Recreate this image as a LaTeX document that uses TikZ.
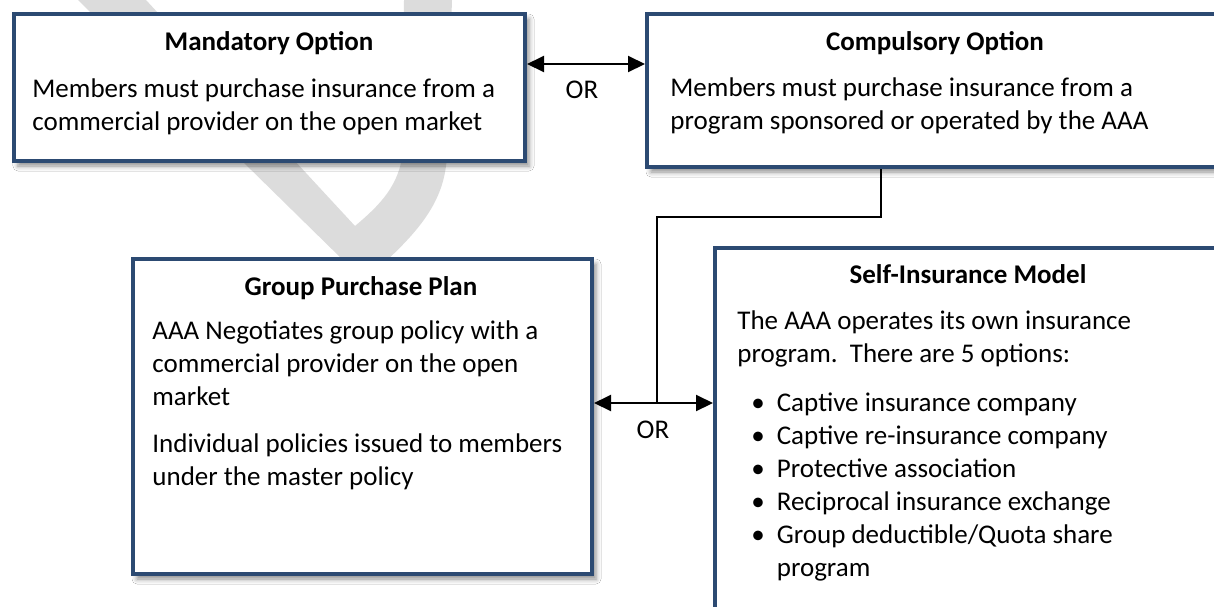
\documentclass[tikz,border=0pt]{standalone}
\usepackage{fontspec}
\setmainfont{Carlito}
\usepackage{tikz}
\usepackage{xcolor}
\usetikzlibrary{arrows.meta,positioning,fit,shadows.blur}
\definecolor{navy}{HTML}{2C4A72}
\definecolor{ghost}{HTML}{DCDCDC}
\tikzset{
  optbox/.style={draw=navy,fill=white,line width=2pt,inner sep=0pt,
                 blur shadow={shadow xshift=2pt,shadow yshift=-2.5pt,
                              shadow blur radius=2.5pt,shadow opacity=45}},
  optitle/.style={anchor=base,inner sep=0pt,
                  font=\fontsize{13.5}{16.5}\selectfont\bfseries},
  optext/.style={anchor=base west,align=left,inner sep=0pt,
                 font=\fontsize{13.5}{16.5}\selectfont},
  orlabel/.style={inner sep=0pt,font=\fontsize{13.5}{16.5}\selectfont},
  orarr/.style={{Triangle[length=8.5pt,width=8pt]}-{Triangle[length=8.5pt,width=8pt]},
                line width=1pt},
  link/.style={line width=1pt}
}

\begin{document}
\begin{tikzpicture}[x=0.5pt,y=-0.5pt]
  \useasboundingbox (0,0) rectangle (1214,606);
  \clip (0,0) rectangle (1214,606);
  \fill[white] (0,0) rectangle (1214,606);

  % faint letter behind the boxes
  \fill[ghost] (78,0) -- (345,262) -- (385,262)
    .. controls (425,225) and (447,195) .. (447,150) -- (452,0) -- (404,0)
    -- (403,150) .. controls (400,185) and (380,205) .. (355,226) -- (146,0) -- cycle;

  % the four options
  \node[optbox,fit={(14,14) (525,161)}] (mand) {};
  \node[optbox,fit={(647,14) (1260,167)}] (comp) {};
  \node[optbox,fit={(133,259) (592,574)}] (group) {};
  \node[optbox,fit={(715,248) (1260,690)}] (self) {};

  % texts sit on the baseline of their last line
  \node[optitle] (mandT) at (269,50) {Mandatory Option};
  \node[optext] (mandB) at (32,130)
    {Members must purchase insurance from a\\commercial provider on the open market};

  \node[optitle] (compT) at (935,50) {Compulsory Option};
  \node[optext] (compB) at (670,129)
    {Members must purchase insurance from a\\program sponsored or operated by the AAA};

  \node[optitle] (groupT) at (361,295) {Group Purchase Plan};
  \node[optext] (groupB) at (152,485)
    {AAA Negotiates group policy with a\\commercial provider on the open\\market\\[7pt]
     Individual policies issued to members\\under the master policy};

  \node[optitle] (selfT) at (968,283) {Self-Insurance Model};
  \node[optext] (selfB) at (737,362)
    {The AAA operates its own insurance\\program.\ \ There are 5 options:};
  \node[optext] (selfL) at (751,411)
    {\begin{tabular}[t]{@{}l@{\hspace{6pt}}l@{}}
       \textbullet & Captive insurance company\\
       \textbullet & Captive re-insurance company\\
       \textbullet & Protective association\\
       \textbullet & Reciprocal insurance exchange\\
       \textbullet & Group deductible/Quota share\\
                   & program
     \end{tabular}};

  % OR links
  \coordinate (orA) at (587,64);
  \draw[orarr] (orA -| mand.east) -- (orA -| comp.west);
  \node[orlabel] (orAT) at (582,90) {OR};

  \coordinate (jn) at (657,403);
  \coordinate (drop) at (881,217);
  \draw[orarr] (jn -| group.east) -- (jn -| self.west);
  \draw[link] (drop |- comp.south) -- (drop) -| (jn);
  \node[orlabel] (orBT) at (653,430) {OR};
\end{tikzpicture}
\end{document}
